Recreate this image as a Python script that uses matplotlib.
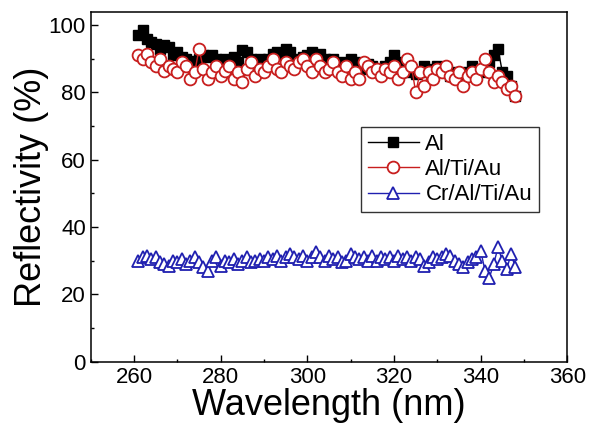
import matplotlib
matplotlib.use("Agg")
import matplotlib.pyplot as plt
from matplotlib.ticker import MultipleLocator

plt.rcParams['font.family'] = ['Liberation Sans', 'DejaVu Sans']

# wavelength grid (nm), one reading per nm
wavelength = list(range(261, 349))

al = [97, 98.5, 96, 95, 94.5, 93, 94, 93.5, 91, 92,
      90.5, 90, 89.5, 88.5, 90, 91, 90.5, 91, 90, 89,
      90, 89.5, 90.5, 89, 92.5, 92, 90, 89, 90, 88.5,
      90, 91.5, 92, 91, 93, 92, 90, 89, 90.5, 91,
      92, 90, 91.5, 90, 89, 90, 88.5, 89, 88, 90,
      89, 88, 87, 88.5, 88, 87, 86.5, 88, 89, 91,
      89, 88, 86, 87, 85.5, 86, 88, 87, 86, 88,
      87, 86.5, 85, 86, 85, 84, 86, 88, 85, 86,
      87, 89, 91, 93, 86, 85, 82, 79]

al_ti_au = [91, 90, 91.5, 89, 88, 90, 86.5, 88, 87, 86,
            89, 88, 84, 86, 93, 87, 84, 86, 88, 85,
            86.5, 88, 84, 86, 83, 87, 89, 85, 87, 86,
            88, 90, 87, 86, 89, 88, 87, 89, 90, 88,
            86, 90, 88, 86, 87, 89, 86, 85, 88, 84,
            86, 84, 89, 88, 86, 87, 85, 87, 86, 88,
            84, 86, 90, 88, 80, 86, 82, 86, 84, 87,
            86, 88, 85, 84, 86, 82, 85, 86, 84, 87,
            90, 86, 83, 85, 83, 81, 82, 79]

cr_al_ti_au = [30, 31, 31.5, 30.5, 31, 29.5, 29, 28.5, 30, 29.5,
               30.5, 29, 30, 31, 29.5, 28, 27, 30, 31, 28.5,
               30, 29.5, 30.5, 29, 30, 31, 29.5, 30, 30.5, 30,
               31, 30.5, 31.5, 30, 31, 32, 31, 30.5, 31.5, 30,
               31, 32.5, 31, 30, 31.5, 30.5, 31, 29.5, 30, 32,
               31, 30.5, 31, 30, 31.5, 30, 31, 30.5, 31, 30,
               31.5, 30.5, 31, 30, 31, 30.5, 28.5, 29.5, 31, 30.5,
               31, 32, 31.5, 30, 29, 28, 29.5, 30.5, 31, 33,
               27, 25, 29, 34, 30, 27.5, 32, 28]

labels = ['Al', 'Al/Ti/Au', 'Cr/Al/Ti/Au']

fig = plt.figure(figsize=(5.91, 4.34), dpi=100)
ax = fig.add_axes([0.1535, 0.1666, 0.8065, 0.8064])

ax.plot(wavelength, al, color='black', lw=1, marker='s', ms=7,
        mfc='black', mec='black', label=labels[0])
ax.plot(wavelength, al_ti_au, color='#c81e1e', lw=1, marker='o', ms=8.5,
        mfc='white', mec='#c81e1e', mew=1.3, label=labels[1])
ax.plot(wavelength, cr_al_ti_au, color='#2020b0', lw=1, marker='^', ms=8.5,
        mfc='white', mec='#2020b0', mew=1.3, label=labels[2])

ax.set_xlim(250, 360)
ax.set_ylim(0, 104)
ax.xaxis.set_major_locator(MultipleLocator(20))
ax.xaxis.set_minor_locator(MultipleLocator(10))
ax.yaxis.set_major_locator(MultipleLocator(20))
ax.yaxis.set_minor_locator(MultipleLocator(10))
ax.tick_params(which='both', direction='in', top=False, right=False,
               labelsize=16, width=1)
ax.tick_params(which='major', length=5)
ax.tick_params(which='minor', length=2.5)
for s in ax.spines.values():
    s.set_linewidth(1.1)

ax.set_xlabel('Wavelength (nm)', fontsize=26, labelpad=0)
ax.set_ylabel('Reflectivity (%)', fontsize=26, labelpad=0)

leg = ax.legend(loc='upper left', bbox_to_anchor=(0.567, 0.671), fontsize=16,
                frameon=True, fancybox=False, edgecolor='black',
                handlelength=2.3, handletextpad=0.3, labelspacing=0.2,
                borderpad=0.3, borderaxespad=0)
leg.get_frame().set_linewidth(1)

fig.savefig('out.png', dpi=100)
